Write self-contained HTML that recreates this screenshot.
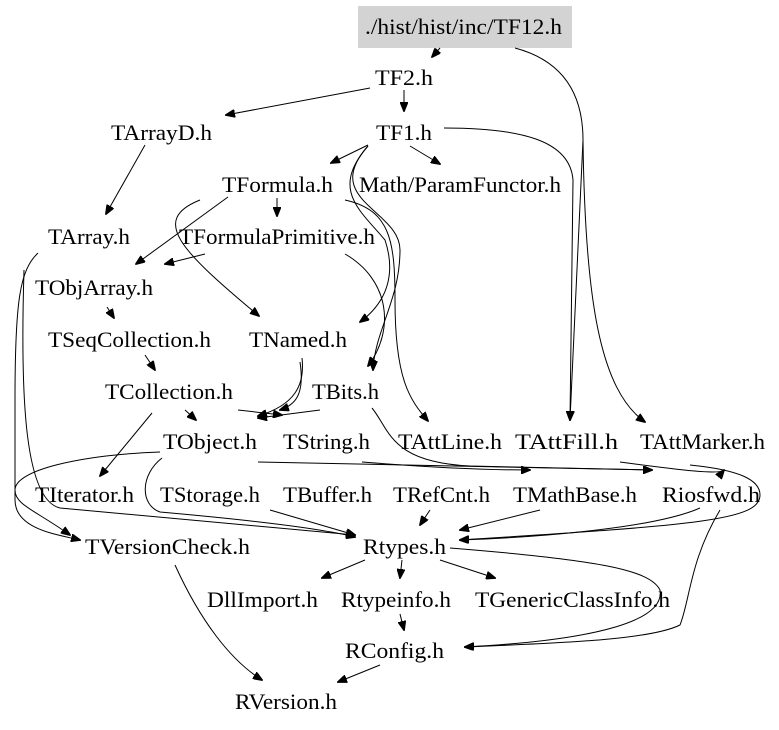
<!DOCTYPE html>
<html><head><meta charset="utf-8"><style>
html,body{margin:0;padding:0;background:#fff;}
svg text{font-family:"Liberation Serif",serif;font-size:22px;fill:#000;}
path{fill:none;stroke:#000;stroke-width:1;}
</style></head><body>
<svg width="779" height="725" viewBox="0 0 779 725" xmlns="http://www.w3.org/2000/svg">
<defs><marker id="a" markerWidth="10" markerHeight="8" refX="9" refY="4" orient="auto" markerUnits="userSpaceOnUse"><path d="M0,0 L10,4 L0,8 Z" style="fill:#000;stroke:#000"/></marker></defs>
<rect x="358" y="6" width="214" height="42" fill="#d3d3d3"/>
<g marker-end="url(#a)">
<path d="M440,48 L432,57"/>
<path d="M515,48 C560,60 583,90 583,140 L570,420"/>
<path d="M583,140 C585,300 600,390 645,422"/>
<path d="M370,88 L226,115"/>
<path d="M404,90 L404,111"/>
<path d="M368,145 L331,163"/>
<path d="M410,146 L440,164"/>
<path d="M444,128 C520,128 570,140 573,180 L570,420"/>
<path d="M368,146 C330,190 360,210 385,240 C395,270 390,300 360,322"/>
<path d="M368,146 C320,200 400,210 400,250 C400,300 375,330 373,370"/>
<path d="M145,145 L106,214"/>
<path d="M277,198 L277,216"/>
<path d="M228,197 L136,264"/>
<path d="M200,200 C150,220 180,250 259,316"/>
<path d="M345,200 C390,210 395,240 395,300 C395,380 410,400 428,421"/>
<path d="M205,254 L165,264"/>
<path d="M345,254 C390,280 395,330 368,366"/>
<path d="M38,253 C20,270 15,300 15,400 L15,500 C15,530 60,535 80,540"/>
<path d="M24,270 C20,400 25,500 60,508 C200,520 300,530 355,535"/>
<path d="M107,307 L114,318"/>
<path d="M145,355 L155,370"/>
<path d="M302,358 C305,385 295,405 258,416"/>
<path d="M300,362 C305,395 295,405 280,410"/>
<path d="M185,410 L196,420"/>
<path d="M152,413 L100,476"/>
<path d="M320,410 L258,418"/>
<path d="M238,410 L282,415"/>
<path d="M372,408 C390,430 390,462 470,466 L652,470"/>
<path d="M162,458 C140,475 140,505 160,512 C250,520 320,528 355,537"/>
<path d="M160,452 C80,455 15,470 15,490 C15,505 35,510 70,535"/>
<path d="M258,462 L652,470"/>
<path d="M362,462 C400,465 470,470 530,470"/>
<path d="M690,465 C740,470 760,480 760,495 C760,520 700,525 460,540"/>
<path d="M270,510 L355,535"/>
<path d="M430,510 L420,525"/>
<path d="M540,510 L460,530"/>
<path d="M700,508 C650,530 520,538 460,540"/>
<path d="M175,565 C200,620 230,660 262,680"/>
<path d="M365,560 L322,578"/>
<path d="M402,560 L400,578"/>
<path d="M440,560 L495,578"/>
<path d="M450,548 C600,560 650,570 660,590 C665,620 600,640 465,647"/>
<path d="M720,510 C690,560 690,600 680,625 C650,640 560,643 465,647"/>
<path d="M400,614 L404,630"/>
<path d="M380,665 L338,682"/>
<path d="M620,462 C680,470 720,475 724,470"/>
</g>
<g>
<text x="365" y="34" textLength="197" lengthAdjust="spacingAndGlyphs">./hist/hist/inc/TF12.h</text>
<text x="375" y="85" textLength="58" lengthAdjust="spacingAndGlyphs">TF2.h</text>
<text x="111" y="140" textLength="101" lengthAdjust="spacingAndGlyphs">TArrayD.h</text>
<text x="376" y="140" textLength="56" lengthAdjust="spacingAndGlyphs">TF1.h</text>
<text x="222" y="192" textLength="111" lengthAdjust="spacingAndGlyphs">TFormula.h</text>
<text x="359" y="192" textLength="202" lengthAdjust="spacingAndGlyphs">Math/ParamFunctor.h</text>
<text x="48" y="244" textLength="82" lengthAdjust="spacingAndGlyphs">TArray.h</text>
<text x="179" y="244" textLength="196" lengthAdjust="spacingAndGlyphs">TFormulaPrimitive.h</text>
<text x="35" y="295" textLength="118" lengthAdjust="spacingAndGlyphs">TObjArray.h</text>
<text x="48" y="347" textLength="163" lengthAdjust="spacingAndGlyphs">TSeqCollection.h</text>
<text x="249" y="347" textLength="98" lengthAdjust="spacingAndGlyphs">TNamed.h</text>
<text x="105" y="399" textLength="128" lengthAdjust="spacingAndGlyphs">TCollection.h</text>
<text x="312" y="399" textLength="67" lengthAdjust="spacingAndGlyphs">TBits.h</text>
<text x="163" y="449" textLength="94" lengthAdjust="spacingAndGlyphs">TObject.h</text>
<text x="283" y="449" textLength="87" lengthAdjust="spacingAndGlyphs">TString.h</text>
<text x="398" y="449" textLength="104" lengthAdjust="spacingAndGlyphs">TAttLine.h</text>
<text x="515" y="449" textLength="103" lengthAdjust="spacingAndGlyphs">TAttFill.h</text>
<text x="640" y="449" textLength="125" lengthAdjust="spacingAndGlyphs">TAttMarker.h</text>
<text x="35" y="502" textLength="99" lengthAdjust="spacingAndGlyphs">TIterator.h</text>
<text x="160" y="502" textLength="100" lengthAdjust="spacingAndGlyphs">TStorage.h</text>
<text x="283" y="502" textLength="89" lengthAdjust="spacingAndGlyphs">TBuffer.h</text>
<text x="393" y="502" textLength="97" lengthAdjust="spacingAndGlyphs">TRefCnt.h</text>
<text x="513" y="502" textLength="124" lengthAdjust="spacingAndGlyphs">TMathBase.h</text>
<text x="662" y="502" textLength="98" lengthAdjust="spacingAndGlyphs">Riosfwd.h</text>
<text x="85" y="554" textLength="165" lengthAdjust="spacingAndGlyphs">TVersionCheck.h</text>
<text x="363" y="554" textLength="83" lengthAdjust="spacingAndGlyphs">Rtypes.h</text>
<text x="207" y="607" textLength="111" lengthAdjust="spacingAndGlyphs">DllImport.h</text>
<text x="341" y="607" textLength="110" lengthAdjust="spacingAndGlyphs">Rtypeinfo.h</text>
<text x="475" y="607" textLength="195" lengthAdjust="spacingAndGlyphs">TGenericClassInfo.h</text>
<text x="345" y="658" textLength="99" lengthAdjust="spacingAndGlyphs">RConfig.h</text>
<text x="235" y="709" textLength="102" lengthAdjust="spacingAndGlyphs">RVersion.h</text>
</g>
</svg>
</body></html>
